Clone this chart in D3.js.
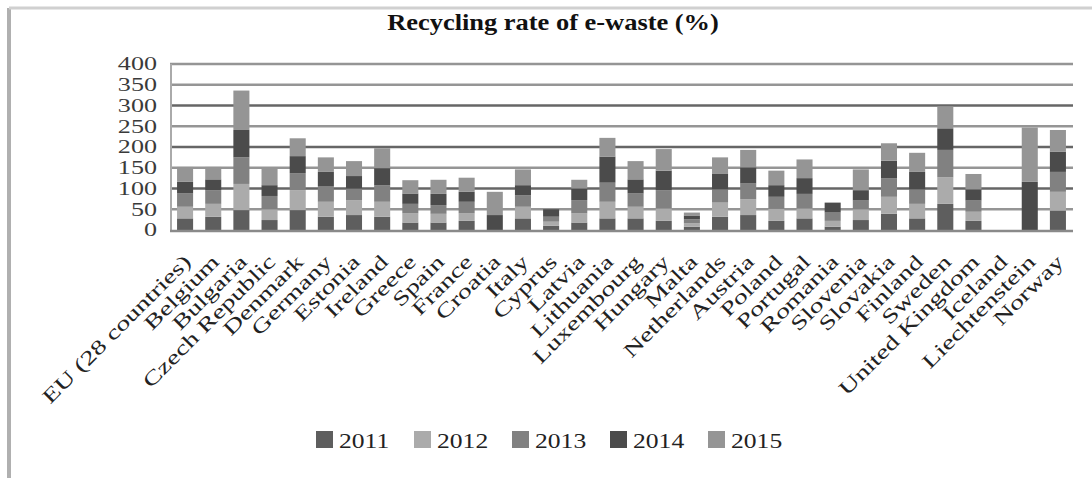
<!DOCTYPE html>
<html>
<head>
<meta charset="utf-8">
<script src="https://cdn.jsdelivr.net/npm/d3@7"></script>
<style>
  body { margin: 0; background: #fff; }
  text { font-family: "Liberation Serif", "DejaVu Serif", serif; fill: #222; }
</style>
</head>
<body>
<script>
var categories = ["EU (28 countries)", "Belgium", "Bulgaria", "Czech Republic", "Denmark", "Germany",
  "Estonia", "Ireland", "Greece", "Spain", "France", "Croatia", "Italy", "Cyprus", "Latvia",
  "Lithuania", "Luxembourg", "Hungary", "Malta", "Netherlands", "Austria", "Poland", "Portugal",
  "Romania", "Slovenia", "Slovakia", "Finland", "Sweden", "United Kingdom", "Iceland",
  "Liechtenstein", "Norway"];

var years = ["2011", "2012", "2013", "2014", "2015"];

var y2011 = [28,32,48,24,48,32,36,32,18,18,22,0,28,10,18,28,28,22,8,32,36,22,28,8,24,39,28,63,22,0,0,47];
var y2012 = [28,31,63,26,48,36,36,36,22,21,18,0,28,10,22,40,28,30,8,34,38,29,24,14,26,41,35,64,22,0,0,45];
var y2013 = [32,33,64,32,41,38,28,40,23,21,28,0,28,12,32,46,32,44,10,32,38,29,35,20,21,45,35,66,27,0,0,48];
var y2014 = [28,26,66,26,41,34,30,41,25,27,24,36,24,18,28,63,34,47,9,37,39,28,38,24,25,42,42,52,27,0,116,49];
var y2015 = [36,30,95,43,43,35,36,48,32,34,34,56,38,0,21,45,44,52,7,40,42,35,45,0,50,42,46,52,37,0,131,52];

var yTicks = [0, 50, 100, 150, 200, 250, 300, 350, 400];

var width = 1092;
var height = 478;

var colors = d3.scaleOrdinal()
    .domain(years)
    .range(["#5e5e5e", "#ababab", "#818181", "#4b4b4b", "#959595"]);

// build rows for d3.stack
var rows = categories.map(function(c, i){
    return { name: c, "2011": y2011[i], "2012": y2012[i], "2013": y2013[i], "2014": y2014[i], "2015": y2015[i] };
});
var series = d3.stack().keys(years)(rows);

var x = d3.scaleBand()
    .domain(categories)
    .range([171, 1072])
    .paddingInner(0.43)
    .paddingOuter(0.215);

var y = d3.scaleLinear()
    .domain([0, 400])
    .range([230, 64]);

var svg = d3.select("body").append("svg")
    .attr("width", width)
    .attr("height", height);

// outer frame (only left and top edges show)
svg.append("line").attr("x1", 9).attr("x2", 9).attr("y1", 8).attr("y2", height)
    .attr("stroke", "#b0b0b0").attr("stroke-width", 4);
svg.append("line").attr("x1", 9).attr("x2", width).attr("y1", 8).attr("y2", 8)
    .attr("stroke", "#d0d0d0").attr("stroke-width", 3);

// title
svg.append("text")
    .attr("transform", "translate(553,30) scale(1.15,1)")
    .attr("text-anchor", "middle")
    .style("font-size", "23px")
    .style("font-weight", "bold")
    .style("fill", "#111")
    .text("Recycling rate of e-waste (%)");

// gridlines
svg.append("g").selectAll("line")
    .data(yTicks.filter(function(d){ return d > 0; }))
    .join("line")
    .attr("x1", 170).attr("x2", 1073)
    .attr("y1", function(d){ return y(d); })
    .attr("y2", function(d){ return y(d); })
    .attr("stroke", function(d){ return (d % 100 === 0 && d !== 400) ? "#666" : "#959595"; })
    .attr("stroke-width", 2.5);

// y axis line
svg.append("line").attr("x1", 171).attr("x2", 171).attr("y1", 64).attr("y2", 231)
    .attr("stroke", "#aaa").attr("stroke-width", 2);

// bars
svg.append("g").selectAll("g")
    .data(series)
    .join("g")
    .attr("fill", function(d){ return colors(d.key); })
    .selectAll("rect")
    .data(function(d){ return d; })
    .join("rect")
    .attr("x", function(d){ return x(d.data.name); })
    .attr("y", function(d){ return y(d[1]); })
    .attr("width", x.bandwidth())
    .attr("height", function(d){ return y(d[0]) - y(d[1]); });

// baseline
svg.append("line").attr("x1", 170).attr("x2", 1073).attr("y1", 231).attr("y2", 231)
    .attr("stroke", "#8a8a8a").attr("stroke-width", 2.5);

// y tick labels
svg.append("g").selectAll("text")
    .data(yTicks)
    .join("text")
    .attr("transform", function(d){ return "translate(157," + y(d) + ") scale(1.45,1)"; })
    .attr("dy", "0.35em")
    .attr("text-anchor", "end")
    .style("font-size", "18px")
    .style("fill", "#3a3a3a")
    .text(function(d){ return d; });

// x category labels
svg.append("g").selectAll("text")
    .data(categories)
    .join("text")
    .attr("transform", function(d){
        return "translate(" + (x(d) + x.bandwidth() / 2 + 7) + ",263) rotate(-45) scale(1.4,1)";
    })
    .attr("text-anchor", "end")
    .style("font-size", "20px")
    .style("fill", "#222")
    .text(function(d){ return d; });

// legend
var legend = svg.append("g").selectAll("g")
    .data(years)
    .join("g")
    .attr("transform", function(d, i){ return "translate(" + (316 + i * 98) + ",431)"; });

legend.append("rect")
    .attr("width", 17).attr("height", 17)
    .attr("fill", function(d){ return colors(d); });

legend.append("text")
    .attr("transform", "translate(23,17) scale(1.22,1)")
    .style("font-size", "21px")
    .style("fill", "#222")
    .text(function(d){ return d; });
</script>
</body>
</html>
